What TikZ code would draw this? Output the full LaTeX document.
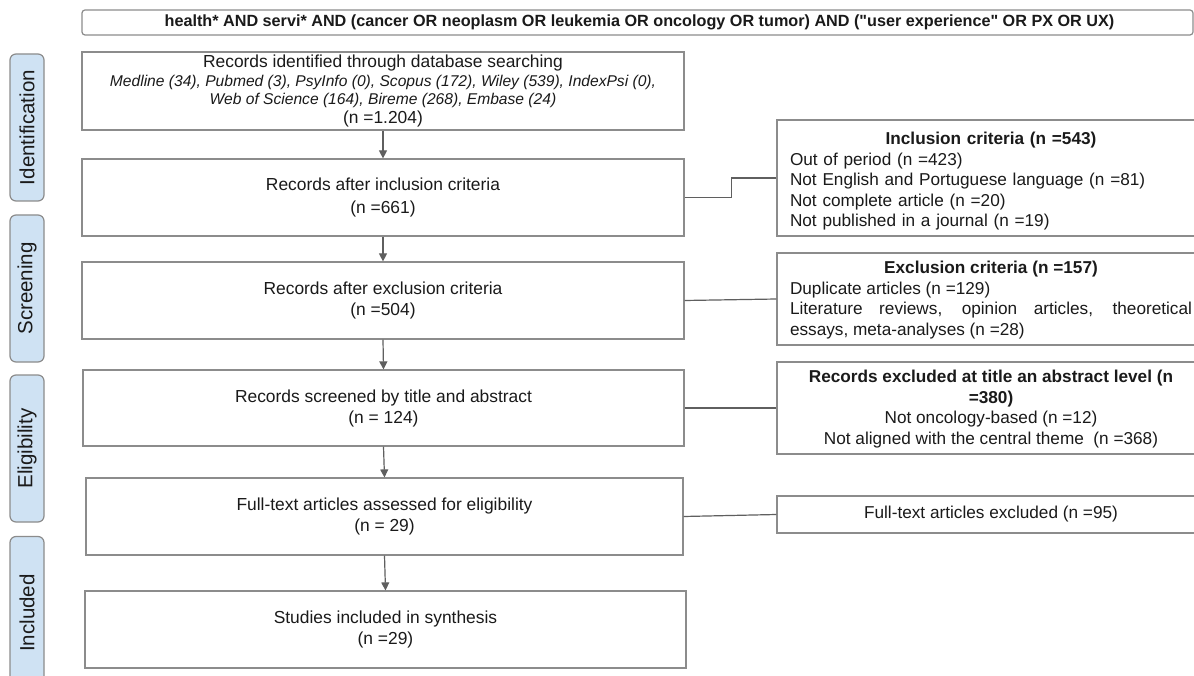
\documentclass[tikz,border=0pt]{standalone}
\usepackage{fontspec}
\setmainfont{Liberation Sans}[Ligatures=TeXOff]
\usetikzlibrary{arrows.meta}
\definecolor{boxgray}{HTML}{8C8C8C}
\definecolor{arrgray}{HTML}{5F5F5F}
\definecolor{sideblue}{HTML}{CFE2F3}
\definecolor{txt}{HTML}{1A1A1A}
\begin{document}
\begin{tikzpicture}[x=1pt,y=-1pt,
  every node/.style={text=txt},
  mainbox/.style={draw=boxgray, line width=1.2pt, fill=white, inner sep=0pt, align=center,
    font=\fontsize{17.4}{20}\selectfont},
  sidebox/.style={draw=boxgray, line width=1.2pt, fill=white, inner sep=0pt,
    font=\fontsize{17.2}{20.5}\selectfont},
  phase/.style={draw=boxgray, line width=1.2pt, fill=sideblue, rounded corners=6pt,
    minimum width=34pt, minimum height=147pt, inner sep=0pt},
  phasetext/.style={rotate=90, font=\fontsize{20.5}{24}\selectfont},
  arr/.style={draw=arrgray, line width=1.2pt, -{Triangle[length=8pt,width=8pt]}},
  link/.style={draw=arrgray, line width=1.2pt}
]
\useasboundingbox (0,0) rectangle (1194,676);
\fill[white] (0,0) rectangle (1194,676);

% search string
\node[draw=boxgray, line width=1.2pt, rounded corners=3pt, minimum width=1111pt, minimum height=25pt,
  inner sep=0pt, font=\fontsize{16.2}{19}\selectfont\bfseries] (query) at (637.5,22.5)
  {\hspace*{4pt}health* AND servi* AND (cancer OR neoplasm OR leukemia OR oncology OR tumor) AND ("user experience" OR PX OR UX)};

% phase labels
\node[phase] (pid) at (27,127.5) {};
\node[phasetext] (tid) at (pid.center) {Identification};
\node[phase] (psc) at (27,288.5) {};
\node[phasetext] (tsc) at (psc.center) {Screening};
\node[phase] (pel) at (27,448.5) {};
\node[phasetext] (tel) at (pel.center) {Eligibility};
\node[phase] (pin) at (27,610) {};
\node[phasetext] (tin) at (27,613) {Included};

% main boxes
\node[mainbox, minimum width=602pt, minimum height=78pt] (b1) at (383,91)
  {Records identified through database searching\\[-1.3pt]
   {\fontsize{15.6}{18}\selectfont\itshape Medline (34), Pubmed (3), PsyInfo (0), Scopus (172), Wiley (539), IndexPsi (0),}\\[-1.3pt]
   {\fontsize{15.6}{18}\selectfont\itshape Web of Science (164), Bireme (268), Embase (24)}\\[-1.3pt]
   (n =1.204)};
\node[mainbox, minimum width=602pt, minimum height=77pt] (b2) at (383,197.5)
  {Records after inclusion criteria\\[3pt] (n =661)};
\node[mainbox, minimum width=602pt, minimum height=77pt] (b3) at (383,300.5)
  {Records after exclusion criteria\\[1pt] (n =504)};
\node[mainbox, minimum width=601pt, minimum height=76pt] (b4) at (383.5,408)
  {Records screened by title and abstract\\[1pt] (n = 124)};
\node[mainbox, minimum width=597pt, minimum height=77pt] (b5) at (384.5,516.5)
  {Full-text articles assessed for eligibility\\[1pt] (n = 29)};
\node[mainbox, minimum width=601pt, minimum height=77pt] (b6) at (385.5,629.5)
  {Studies included in synthesis\\[1pt] (n =29)};

% side boxes
\node[sidebox, minimum width=428pt, minimum height=116pt, text width=402pt, align=left] (inc) at (991,178)
  {\makebox[\linewidth]{\rule{0pt}{18.5pt}\bfseries Inclusion criteria (n =543)}\\[0.5pt]
   Out of period (n =423)\\
   Not English and Portuguese language (n =81)\\
   Not complete article (n =20)\\
   Not published in a journal (n =19)};
\node[sidebox, minimum width=428pt, minimum height=92pt, text width=402pt, align=justify] (exc) at (991,299)
  {\makebox[\linewidth]{\rule{0pt}{15pt}\bfseries Exclusion criteria (n =157)}\newline
   Duplicate articles (n =129)\newline
   Literature reviews, opinion articles, theoretical\linebreak essays, meta-analyses (n =28)};
\node[sidebox, minimum width=428pt, minimum height=92pt, align=center] (rex) at (991,408)
  {{\rule{0pt}{15pt}\bfseries Records excluded at title an abstract level (n}\\
   {\bfseries =380)}\\
   Not oncology-based (n =12)\\
   Not aligned with the central theme \ (n =368)};
\node[sidebox, minimum width=428pt, minimum height=37pt, align=center] (fte) at (991,514.5)
  {Full-text articles excluded (n =95)};

% arrows
\draw[arr] (b1.south) -- (b2.north);
\draw[arr] (b2.south) -- (b3.north);
\draw[arr] (b3.south) -- (b4.north);
\draw[arr] (b4.south) -- (b5.north);
\draw[arr] (b5.south) -- (b6.north);

% links
\draw[link] (b2.east) -- ++(47,0) |- (inc.west);
\draw[link] (b3.east) -- (exc.west);
\draw[link] (b4.east) -- (rex.west);
\draw[link] (b5.east) -- (fte.west);
\end{tikzpicture}
\end{document}
